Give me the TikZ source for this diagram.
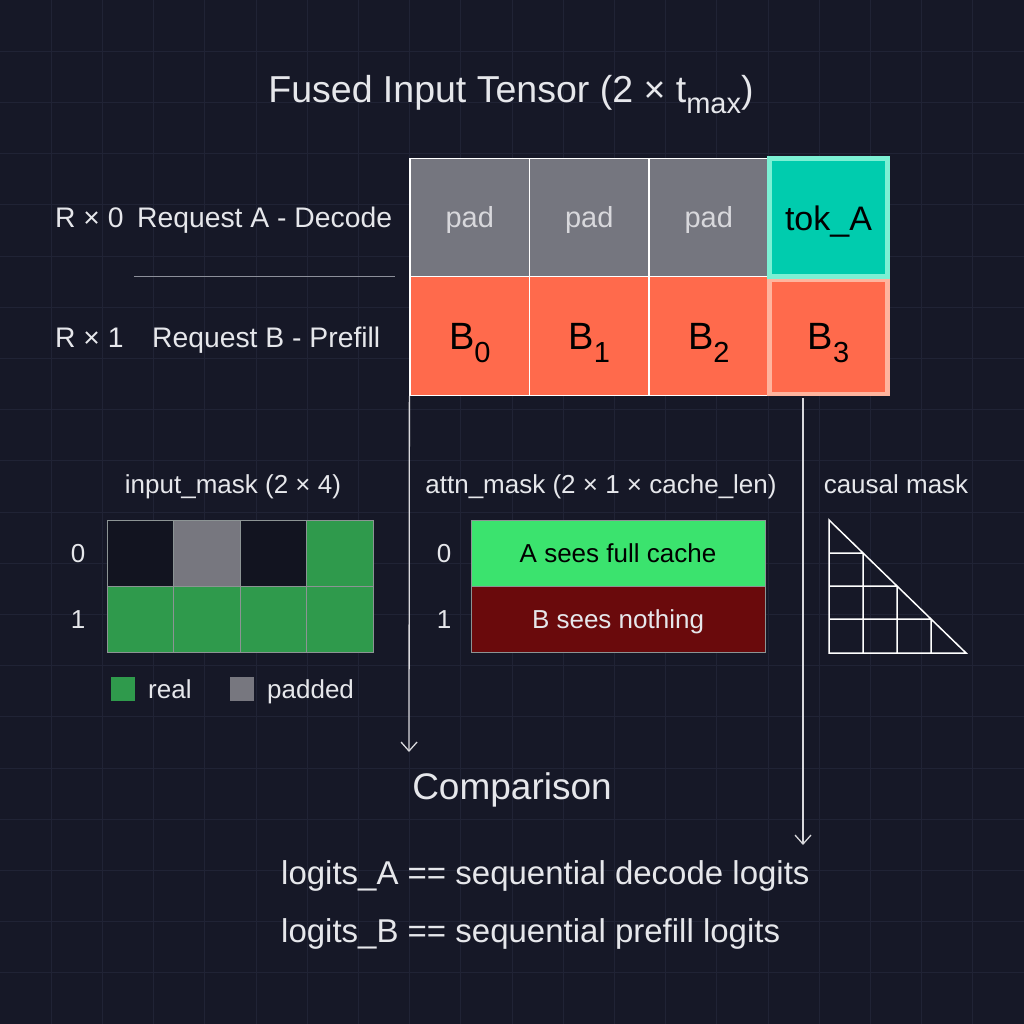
\documentclass[tikz,border=0pt]{standalone}
\usepackage{fontspec}
\setmainfont{Liberation Sans}
\usetikzlibrary{arrows.meta}
\definecolor{bg}{HTML}{161827}
\definecolor{gridc}{HTML}{202335}
\definecolor{txt}{HTML}{E6E7EB}
\definecolor{padgray}{HTML}{75767F}
\definecolor{padtxt}{HTML}{D8D8DC}
\definecolor{orangec}{HTML}{FF6A4C}
\definecolor{tealc}{HTML}{00CCAE}
\definecolor{tealb}{HTML}{7CF0D4}
\definecolor{peachb}{HTML}{FFB49E}
\definecolor{mgreen}{HTML}{2F9A4C}
\definecolor{mgray}{HTML}{77777F}
\definecolor{mdark}{HTML}{121420}
\definecolor{mborder}{HTML}{8C9494}
\definecolor{agreen}{HTML}{3BE36E}
\definecolor{ared}{HTML}{6A0A0C}
\definecolor{sepc}{HTML}{8C8F9A}
\definecolor{arrc}{HTML}{D8D8DC}
\newcommand{\fsz}[1]{\fontsize{#1}{#1}\selectfont}
\begin{document}
\begin{tikzpicture}[x=1pt,y=-1pt,
  lbl/.style={text=txt,inner sep=0pt,font=\fsz{28.3},anchor=base west},
  tcell/.style={draw=white,line width=1.2pt,minimum width=119.5pt,minimum height=118.5pt,inner sep=0pt},
  padcell/.style={tcell,fill=padgray},
  bcell/.style={tcell,fill=orangec},
  celltxt/.style={inner sep=0pt,anchor=base},
  mcell/.style={draw=mborder,line width=1pt,minimum width=66.5pt,minimum height=66pt,inner sep=0pt},
  abar/.style={draw=mborder,line width=1pt,minimum width=294pt,minimum height=66pt,inner sep=0pt},
  small/.style={text=txt,inner sep=0pt,font=\fsz{26},anchor=base},
  conn/.style={draw=arrc,line width=1.3pt,-{Straight Barb[length=9pt,width=16pt,line width=1.3pt]}},
]
\fill[bg] (0,0) rectangle (1024,1024);
\useasboundingbox (0,0) rectangle (1024,1024);
% background grid
\foreach \i in {1,...,19}{
  \draw[gridc,line width=0.9pt] (\i*51.2,0) -- (\i*51.2,1024);
  \draw[gridc,line width=0.9pt] (0,\i*51.2) -- (1024,\i*51.2);
}
% title
\node[text=txt,inner sep=0pt,font=\fsz{37.5},anchor=base] (title) at (511,103) {Fused Input Tensor (2 × t\raisebox{-11pt}{\fsz{29}max})};
% row labels
\node[lbl] (r0) at (55,228) {R × 0};
\node[lbl] (reqA) at (137,228) {Request A - Decode};
\node[lbl] (r1) at (55,347) {R × 1};
\node[lbl] (reqB) at (152,347) {Request B - Prefill};
\coordinate (sepL) at (134,276);
\coordinate (sepR) at (395,276);
\draw[sepc,line width=1pt] (sepL) -- (sepR);
% tensor cells
\node[padcell] (p0) at (469.75,217.5) {};
\node[padcell] (p1) at (589.25,217.5) {};
\node[padcell] (p2) at (708.75,217.5) {};
\node[bcell] (b0) at (469.75,336) {};
\node[bcell] (b1) at (589.25,336) {};
\node[bcell] (b2) at (708.75,336) {};
\node[draw=peachb,line width=4.5pt,fill=orangec,minimum width=118pt,minimum height=114pt,inner sep=0pt] (b3) at (828.5,337) {};
\node[draw=tealb,line width=5pt,fill=tealc,minimum width=118pt,minimum height=117pt,inner sep=0pt] (tokA) at (828.5,217.5) {};
\foreach \n in {p0,p1,p2}{
  \node[celltxt,text=padtxt,font=\fsz{29}] at (\n.center |- 0,228) {pad};
}
\node[celltxt,text=black,font=\fsz{34}] (tokAt) at (tokA.center |- 0,230) {tok\_A};
\foreach \n/\k in {b0/0,b1/1,b2/2,b3/3}{
  \node[celltxt,text=black,font=\fsz{38}] at (\n.center |- 0,349) {B\raisebox{-13pt}{\fsz{29}\k}};
}
% input mask
\node[small] (imtitle) at (233,493) {input\_mask (2 × 4)};
\node[mcell,fill=mdark] (m00) at (140.25,553) {};
\node[mcell,fill=mgray] (m01) at (206.75,553) {};
\node[mcell,fill=mdark] (m02) at (273.25,553) {};
\node[mcell,fill=mgreen] (m03) at (339.75,553) {};
\node[mcell,fill=mgreen] (m10) at (140.25,619) {};
\node[mcell,fill=mgreen] (m11) at (206.75,619) {};
\node[mcell,fill=mgreen] (m12) at (273.25,619) {};
\node[mcell,fill=mgreen] (m13) at (339.75,619) {};
\node[small] (im0) at (78,562) {0};
\node[small] (im1) at (78,628) {1};
\node[fill=mgreen,minimum size=24pt,inner sep=0pt] (legR) at (123,689) {};
\node[small,anchor=base west] (legRt) at (148,698) {real};
\node[fill=mgray,minimum size=24pt,inner sep=0pt] (legP) at (242,689) {};
\node[small,anchor=base west] (legPt) at (267,698) {padded};
% attn mask
\node[small] (amtitle) at (601,493) {attn\_mask (2 × 1 × cache\_len)};
\node[abar,fill=agreen] (a0) at (618,553) {};
\node[abar,fill=ared] (a1) at (618,619) {};
\node[small,text=black] (a0t) at (618,562) {A sees full cache};
\node[small] (a1t) at (618,628) {B sees nothing};
\node[small] (am0) at (444,562) {0};
\node[small] (am1) at (444,628) {1};
% causal mask
\node[small] (cmtitle) at (896,493) {causal mask};
\draw[white,line width=1.5pt,line join=miter]
  (829,520) -- (966,653) -- (829,653) -- cycle
  (829,553) -- (863,553) (829,586) -- (897,586) (829,619) -- (931,619)
  (863,553) -- (863,653) (897,586) -- (897,653) (931,619) -- (931,653);
% comparison
\node[text=txt,inner sep=0pt,font=\fsz{37},anchor=base] (cmp) at (512,799) {Comparison};
\node[text=txt,inner sep=0pt,font=\fsz{33},anchor=base west] (lgA) at (281,884) {logits\_A == sequential decode logits};
\node[text=txt,inner sep=0pt,font=\fsz{33},anchor=base west] (lgB) at (281,942) {logits\_B == sequential prefill logits};
% connectors
\coordinate (s1) at (b0.south west);
\coordinate (e1) at (409,752);
\coordinate (s2) at (803,398);
\coordinate (e2) at (803,845);
\draw[conn] (s1) -- (e1);
\draw[conn] (s2) -- (e2);
\end{tikzpicture}
\end{document}
